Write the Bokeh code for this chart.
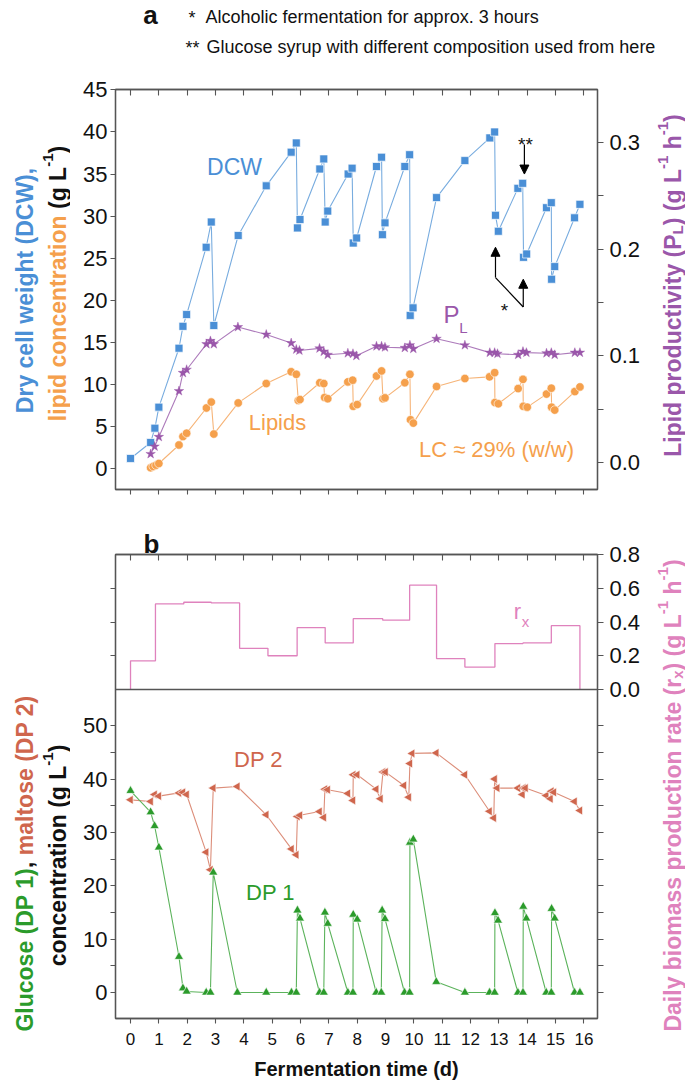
import math
from bokeh.plotting import figure
from bokeh.models import (Range1d, LinearAxis, FixedTicker, Label, Arrow, Title,
                          NormalHead, Span, CustomJSTickFormatter, PrintfTickFormatter)
from bokeh.layouts import column, row
from bokeh.embed import file_html
from bokeh.resources import INLINE

# ---------------- data: panel a ----------------
dcw_time = [0, 0.71, 0.86, 1.0, 1.71, 1.85, 1.98, 2.67, 2.85, 2.94, 3.80, 4.79,
            5.67, 5.85, 5.89, 5.98, 6.68, 6.82, 6.87, 6.96, 7.68, 7.82, 7.86, 7.98,
            8.68, 8.86, 8.89, 8.98, 9.68, 9.85, 9.87, 9.97, 10.80, 11.80,
            12.68, 12.85, 12.88, 12.98, 13.67, 13.84, 13.87, 13.98,
            14.68, 14.85, 14.86, 14.97, 15.67, 15.86]
dcw = [1.2, 3.1, 4.8, 7.3, 14.3, 16.9, 18.3, 26.3, 29.3, 17.0, 27.7, 33.6,
       37.6, 38.7, 28.6, 29.6, 35.6, 36.8, 29.3, 30.6, 35.0, 35.7, 26.8, 27.4,
       35.9, 37.0, 27.8, 29.2, 35.9, 37.3, 18.2, 19.1, 32.2, 36.6,
       39.3, 40.0, 30.1, 28.2, 33.3, 33.9, 25.1, 25.5,
       31.0, 31.6, 22.5, 24.0, 29.8, 31.4]

lipid_time = [0.71, 0.80, 0.90, 1.0, 1.71, 1.85, 1.98, 2.68, 2.85, 2.94, 3.80, 4.79,
              5.67, 5.85, 5.92, 5.98, 6.68, 6.82, 6.85, 6.96, 7.67, 7.84, 7.86, 8.0,
              8.68, 8.86, 8.91, 8.98, 9.68, 9.86, 9.88, 9.98, 10.80, 11.80,
              12.67, 12.85, 12.86, 12.98, 13.68, 13.85, 13.86, 14.0,
              14.68, 14.85, 14.86, 14.97, 15.68, 15.86]
lipid = [0.1, 0.25, 0.4, 0.6, 2.8, 3.8, 4.2, 7.2, 7.9, 4.1, 7.8, 10.1,
         11.5, 11.2, 8.1, 8.2, 10.2, 10.1, 8.45, 8.3, 10.3, 10.5, 7.4, 7.6,
         11.0, 11.6, 8.3, 8.4, 10.2, 11.2, 5.8, 5.4, 9.75, 10.7,
         10.9, 11.4, 7.85, 7.7, 9.5, 10.6, 7.4, 7.3,
         8.85, 9.55, 7.3, 6.95, 9.15, 9.7]

pl_time = [0.71, 0.85, 1.0, 1.71, 1.85, 1.98, 2.68, 2.82, 2.94, 3.79, 4.79,
           5.67, 5.85, 5.96, 6.67, 6.82, 6.96, 7.67, 7.85, 7.97, 8.68, 8.86, 8.98,
           9.68, 9.86, 9.98, 10.80, 11.80, 12.68, 12.85, 12.95, 13.68, 13.85, 13.97,
           14.68, 14.85, 14.97, 15.68, 15.86]
pl = [0.008, 0.015, 0.024, 0.067, 0.084, 0.087, 0.111, 0.114, 0.111, 0.127, 0.120,
      0.112, 0.106, 0.105, 0.107, 0.104, 0.101, 0.1025, 0.102, 0.100, 0.109, 0.109, 0.108,
      0.1075, 0.110, 0.1066, 0.116, 0.110, 0.103, 0.103, 0.102, 0.101, 0.104, 0.103,
      0.1025, 0.103, 0.101, 0.103, 0.103]

# ---------------- data: panel b ----------------
rx_edges = [0, 0.88, 1.88, 2.85, 3.85, 4.85, 5.88, 6.87, 7.86, 8.9, 9.85,
            10.8, 11.8, 12.86, 13.85, 14.85, 15.86]
rx_rate = [0.17, 0.507, 0.517, 0.513, 0.244, 0.2, 0.367, 0.276, 0.42, 0.411,
           0.618, 0.183, 0.133, 0.272, 0.276, 0.378]

dp1_time = [0, 0.71, 0.85, 1.0, 1.71, 1.85, 1.98, 2.67, 2.82, 2.92, 3.77, 4.79,
            5.68, 5.85, 5.89, 5.98, 6.67, 6.82, 6.86, 6.96, 7.67, 7.85, 7.86, 8.0,
            8.67, 8.85, 8.88, 8.98, 9.67, 9.85, 9.86, 9.98, 10.79, 11.80,
            12.67, 12.85, 12.86, 12.97, 13.67, 13.85, 13.86, 13.97,
            14.67, 14.85, 14.86, 14.97, 15.67, 15.86]
dp1 = [37.8, 33.8, 31.2, 27.2, 6.7, 0.8, 0.2, 0, 0, 22.5, 0, 0,
       0, 0, 15.4, 13.9, 0, 0, 15.0, 12.9, 0, 0, 14.6, 13.7,
       0, 0, 15.4, 13.8, 0, 0, 28.1, 28.7, 2.0, 0,
       0, 0, 14.9, 13.5, 0, 0, 16.1, 13.9,
       0, 0, 15.7, 13.9, 0, 0]

dp2_time = [0, 0.71, 0.85, 1.0, 1.71, 1.85, 1.98, 2.67, 2.82, 2.92, 3.77, 4.79,
            5.68, 5.85, 5.89, 5.98, 6.67, 6.82, 6.86, 6.96, 7.67, 7.85, 7.86, 8.0,
            8.67, 8.82, 8.91, 9.0, 9.65, 9.82, 9.86, 9.94, 10.79, 11.80,
            12.67, 12.82, 12.85, 12.94, 13.67, 13.83, 13.86, 13.94,
            14.67, 14.82, 14.85, 14.94, 15.67, 15.86]
dp2 = [36.1, 35.8, 37.1, 36.8, 37.4, 37.5, 37.1, 26.3, 23.0, 38.3, 38.6, 33.3,
       26.9, 25.8, 33.0, 33.2, 33.9, 32.8, 38.1, 38.0, 37.3, 36.0, 40.8, 40.8,
       38.1, 36.3, 41.3, 41.3, 38.8, 36.6, 42.9, 44.8, 44.9, 40.8,
       33.95, 32.7, 40.0, 38.3, 38.3, 37.1, 38.3, 38.3,
       36.9, 36.3, 37.7, 37.5, 35.8, 34.1]

# ---------------- ticks ----------------
day_ticks = list(range(0, 17))
dcw_ticks = list(range(0, 50, 5))
pl_ticks = [0.0, 0.1, 0.2, 0.3]
pl_minor = [0.05, 0.15, 0.25]
rx_ticks = [0.0, 0.2, 0.4, 0.6, 0.8]
conc_ticks = list(range(0, 55, 5))

# ---------------- layout constants (page pixels) ----------------
FONT = "Liberation Sans"
PAGE_W = 685
HEAD_H = 70                  # header strip height
LEFT_W, RIGHT_W = 70, 41     # side strips for the axis titles
MAIN_W = PAGE_W - LEFT_W - RIGHT_W
FRAME_X0, FRAME_X1 = 115, 597
A_FRAME = (89, 489)
A_H = 444
B_TOP = HEAD_H + A_H
B_FRAME = (554, 1018)
B_SEP_PY = 689
B_H = 574

XR = (-0.53, 16.48)
YA = (-2.49, 45.05)
PLR = (-0.0253, 0.3497)
YB = (-4.87, 82.07)
RX_TOP = 0.8
RXR = (-(B_FRAME[1] - B_SEP_PY) * RX_TOP / (B_SEP_PY - B_FRAME[0]), RX_TOP)

BLUE, BLUE_L = "#4a8fd6", "#78acdf"
ORANGE, ORANGE_L = "#f5a04c", "#f6b478"
PURPLE, PURPLE_L = "#9a57aa", "#ad7bbb"
PINK = "#df82bd"
GREEN, GREEN_L = "#2b9b2b", "#5cb35c"
BROWN, BROWN_L = "#cf664d", "#dc8e7a"
AXIS = "#555555"
INK = "#111111"


def ax(px):
    return XR[0] + (px - FRAME_X0) / (FRAME_X1 - FRAME_X0) * (XR[1] - XR[0])


def ay(py):
    return YA[0] + (A_FRAME[1] - py) / (A_FRAME[1] - A_FRAME[0]) * (YA[1] - YA[0])


def by(py):
    return YB[0] + (B_FRAME[1] - py) / (B_FRAME[1] - B_FRAME[0]) * (YB[1] - YB[0])


def conc_to_rx(c):
    py = B_FRAME[1] - (c - YB[0]) / (YB[1] - YB[0]) * (B_FRAME[1] - B_FRAME[0])
    return (B_SEP_PY - py) * RX_TOP / (B_SEP_PY - B_FRAME[0])


def rx_to_conc(r):
    py = B_SEP_PY - r * (B_SEP_PY - B_FRAME[0]) / RX_TOP
    return by(py)


HB = {' ': 278, '(': 333, ')': 333, ',': 278, '-': 333, '.': 278, '/': 278,
      'A': 722, 'B': 722, 'C': 722, 'D': 722, 'E': 667, 'F': 611, 'G': 778, 'H': 722,
      'I': 278, 'J': 556, 'K': 722, 'L': 611, 'M': 833, 'N': 722, 'O': 778, 'P': 667,
      'Q': 778, 'R': 722, 'S': 667, 'T': 611, 'U': 722, 'V': 667, 'W': 944, 'X': 667,
      'Y': 667, 'Z': 611, 'a': 556, 'b': 611, 'c': 556, 'd': 611, 'e': 556, 'f': 333,
      'g': 611, 'h': 611, 'i': 278, 'j': 278, 'k': 556, 'l': 278, 'm': 889, 'n': 611,
      'o': 611, 'p': 611, 'q': 611, 'r': 389, 's': 556, 't': 333, 'u': 611, 'v': 556,
      'w': 778, 'x': 556, 'y': 556, 'z': 500}


def sw(s, size):
    return sum(HB.get(c, 556) for c in s) * size / 1000.0


def text_strip(w, h):
    f = figure(width=w, height=h, x_range=Range1d(0, w), y_range=Range1d(h, 0),
               x_axis_location=None, y_axis_location=None, title=None,
               output_backend="svg", toolbar_location=None, min_border=0)
    f.grid.visible = False
    f.outline_line_color = None
    return f


def vlabel(p, cx_conv, cy_conv, cx, cy, segs, size=23):
    small = round(size * 0.65)
    total = sum(sw(t, small if k != "n" else size) for t, c, k in segs)
    y = cy + total / 2.0
    base = cx + 0.36 * size
    for t, c, k in segs:
        s = size if k == "n" else small
        bx = base + (-0.42 * size if k == "sup" else (0.2 * size if k == "sub" else 0))
        lead = len(t) - len(t.lstrip(" "))
        txt = t.strip(" ")
        yy = y - sw(" " * lead, s)
        p.add_layout(Label(x=cx_conv(bx), y=cy_conv(yy), text=txt, angle=math.pi / 2,
                           text_align="left", text_baseline="alphabetic",
                           text_font=FONT, text_font_style="bold",
                           text_font_size=f"{s}px", text_color=c))
        y -= sw(t, s)


def hlabel(p, cx_conv, cy_conv, px, py, text, size, color, bold=False, align="center",
           baseline="middle"):
    p.add_layout(Label(x=cx_conv(px), y=cy_conv(py), text=text, text_align=align,
                       text_baseline=baseline, text_font=FONT,
                       text_font_style="bold" if bold else "normal",
                       text_font_size=f"{size}px", text_color=color))


def style_axis(a, tick_in=0, tick_out=5, size="22px", standoff=4):
    a.axis_line_color = AXIS
    a.axis_line_width = 1.3
    a.major_tick_line_color = AXIS
    a.minor_tick_line_color = AXIS
    a.major_tick_line_width = 1.1
    a.minor_tick_line_width = 1.1
    a.major_tick_in = tick_in
    a.major_tick_out = tick_out
    a.minor_tick_in = tick_in
    a.minor_tick_out = tick_out
    a.major_label_text_font = FONT
    a.major_label_text_font_size = size
    a.major_label_text_color = INK
    a.major_label_standoff = standoff


BLANK = "return '';"

# ======================= header strip =======================
head = text_strip(PAGE_W, HEAD_H)
hx = lambda v: v
hy = lambda v: v
hlabel(head, hx, hy, 150, 14, "a", 26, INK, bold=True)
hlabel(head, hx, hy, 188, 17, "*", 18, INK, align="left", baseline="alphabetic")
hlabel(head, hx, hy, 205, 16, "Alcoholic fermentation for approx. 3 hours", 18, INK,
       align="left", baseline="alphabetic")
hlabel(head, hx, hy, 185, 47, "**", 18, INK, align="left", baseline="alphabetic")
hlabel(head, hx, hy, 206, 46, "Glucose syrup with different composition used from here",
       18, INK, align="left", baseline="alphabetic")

# ======================= panel a =======================
pa = figure(width=MAIN_W, height=A_H, x_range=Range1d(*XR), y_range=Range1d(*YA),
            x_axis_location=None, y_axis_location=None,
            output_backend="svg", toolbar_location=None,
            min_border_left=FRAME_X0 - LEFT_W,
            min_border_right=LEFT_W + MAIN_W - FRAME_X1,
            min_border_top=A_FRAME[0] - HEAD_H,
            min_border_bottom=HEAD_H + A_H - A_FRAME[1])
pa.extra_y_ranges = {"pl": Range1d(*PLR)}
pa.grid.visible = False
pa.outline_line_color = AXIS
pa.outline_line_width = 1.3

a_left = LinearAxis(ticker=FixedTicker(ticks=dcw_ticks))
style_axis(a_left, tick_out=5, standoff=3)
pa.add_layout(a_left, "left")
a_right = LinearAxis(y_range_name="pl",
                     ticker=FixedTicker(ticks=pl_ticks, minor_ticks=pl_minor),
                     formatter=PrintfTickFormatter(format="%.1f"))
style_axis(a_right, tick_out=6, standoff=6)
pa.add_layout(a_right, "right")
a_top = LinearAxis(ticker=FixedTicker(ticks=day_ticks),
                   formatter=CustomJSTickFormatter(code=BLANK))
style_axis(a_top, tick_in=6, tick_out=0, size="1px", standoff=0)
pa.add_layout(a_top, "above")
a_bot = LinearAxis(ticker=FixedTicker(ticks=day_ticks),
                   formatter=CustomJSTickFormatter(code=BLANK))
style_axis(a_bot, tick_in=0, tick_out=5, size="1px", standoff=0)
pa.add_layout(a_bot, "below")

pa.line(dcw_time, dcw, line_color=BLUE_L, line_width=1.1)
pa.scatter(dcw_time, dcw, marker="square", size=8, fill_color=BLUE,
           line_color="white", line_width=0.7)
pa.line(lipid_time, lipid, line_color=ORANGE_L, line_width=1.1)
pa.scatter(lipid_time, lipid, marker="circle", size=8.5, fill_color=ORANGE,
           line_color="white", line_width=0.6)
pa.line(pl_time, pl, line_color=PURPLE_L, line_width=1.1, y_range_name="pl")
pa.scatter(pl_time, pl, marker="star", size=10, fill_color=PURPLE,
           line_color=PURPLE, line_width=0.4, y_range_name="pl")

hlabel(pa, ax, ay, 234, 166, "DCW", 23, BLUE)
hlabel(pa, ax, ay, 451, 314, "P", 24, PURPLE)
hlabel(pa, ax, ay, 463, 327, "L", 15, PURPLE)
hlabel(pa, ax, ay, 277, 422, "Lipids", 22, ORANGE)
hlabel(pa, ax, ay, 496, 449, "LC \u2248 29% (w/w)", 22, ORANGE)
hlabel(pa, ax, ay, 525, 144, "**", 19, INK, baseline="alphabetic")
hlabel(pa, ax, ay, 504, 310, "*", 19, INK, baseline="alphabetic")

hd = dict(size=9, fill_color="black", line_color="black")
pa.add_layout(Arrow(end=NormalHead(**hd), x_start=13.9, y_start=38.5,
                    x_end=13.9, y_end=35.0, line_color="black", line_width=1.2))
pa.add_layout(Arrow(end=None, x_start=12.88, y_start=22.7, x_end=13.86, y_end=19.2,
                    line_color="black", line_width=1.2))
pa.add_layout(Arrow(end=NormalHead(**hd), x_start=12.88, y_start=22.7,
                    x_end=12.88, y_end=26.3, line_color="black", line_width=1.2))
pa.add_layout(Arrow(end=NormalHead(**hd), x_start=13.86, y_start=19.2,
                    x_end=13.86, y_end=22.5, line_color="black", line_width=1.2))

# ======================= panel b =======================
pb = figure(width=MAIN_W, height=B_H, x_range=pa.x_range, y_range=Range1d(*YB),
            x_axis_location=None, y_axis_location=None,
            output_backend="svg", toolbar_location=None,
            min_border_left=FRAME_X0 - LEFT_W,
            min_border_right=LEFT_W + MAIN_W - FRAME_X1,
            min_border_top=B_FRAME[0] - B_TOP,
            min_border_bottom=B_TOP + B_H - B_FRAME[1])
pb.extra_y_ranges = {"rx": Range1d(*RXR)}
pb.grid.visible = False
pb.outline_line_color = AXIS
pb.outline_line_width = 1.3

b_left = LinearAxis(ticker=FixedTicker(ticks=conc_ticks + [rx_to_conc(r) for r in (0.2, 0.4, 0.6)]),
                    formatter=CustomJSTickFormatter(code="const r = Math.round(tick); return (Math.abs(tick - r) < 1e-6 && r % 10 === 0 && r <= 50) ? String(r) : '';"))
style_axis(b_left, tick_out=5, standoff=3)
pb.add_layout(b_left, "left")
b_right = LinearAxis(y_range_name="rx",
                     ticker=FixedTicker(ticks=rx_ticks + [conc_to_rx(c) for c in conc_ticks]),
                     formatter=CustomJSTickFormatter(code="return tick > -1e-6 ? tick.toFixed(1) : '';"))
style_axis(b_right, tick_out=6, standoff=6)
pb.add_layout(b_right, "right")
b_top = LinearAxis(ticker=FixedTicker(ticks=day_ticks),
                   formatter=CustomJSTickFormatter(code=BLANK))
style_axis(b_top, tick_in=6, tick_out=0, size="1px", standoff=0)
pb.add_layout(b_top, "above")
pb.add_layout(Title(text="b", align="left", offset=28, standoff=-8, text_font=FONT,
                    text_font_size="26px", text_font_style="bold", text_color=INK),
              "above")
b_bot = LinearAxis(ticker=FixedTicker(ticks=day_ticks),
                   formatter=PrintfTickFormatter(format="%d"),
                   axis_label="Fermentation time (d)")
style_axis(b_bot, tick_out=5, size="17px", standoff=9)
b_bot.axis_label_text_font = FONT
b_bot.axis_label_text_font_style = "bold"
b_bot.axis_label_text_font_size = "20px"
b_bot.axis_label_text_color = INK
b_bot.axis_label_standoff = 10
pb.add_layout(b_bot, "below")

step_x = [rx_edges[0]] + rx_edges
step_y = [0] + rx_rate + [0]
pb.step(step_x, step_y, mode="after", y_range_name="rx", line_color=PINK, line_width=1.3)
pb.add_layout(Span(location=0, dimension="width", y_range_name="rx",
                   line_color=AXIS, line_width=1.3))

pb.line(dp2_time, dp2, line_color=BROWN_L, line_width=1.1)
pb.scatter(dp2_time, dp2, marker="triangle", angle=math.pi / 2, size=9,
           fill_color=BROWN, line_color="white", line_width=0.6)
pb.line(dp1_time, dp1, line_color=GREEN_L, line_width=1.1)
pb.scatter(dp1_time, dp1, marker="triangle", size=9, fill_color=GREEN,
           line_color="white", line_width=0.6)

hlabel(pb, ax, by, 517, 611, "r", 22, PINK)
hlabel(pb, ax, by, 525, 621, "x", 15, PINK)
hlabel(pb, ax, by, 258, 759, "DP 2", 22, BROWN)
hlabel(pb, ax, by, 270, 892, "DP 1", 22, GREEN)

# ======================= side strips (axis titles) =======================
SIDE_H = A_H + B_H
left = text_strip(LEFT_W, SIDE_H)
lx = lambda v: v
ly = lambda v: v - HEAD_H
vlabel(left, lx, ly, 16, 290, [("Dry cell weight (DCW),", BLUE, "n")])
vlabel(left, lx, ly, 49, 283, [("lipid concentration", ORANGE, "n"), (" (g L", INK, "n"),
                               ("-1", INK, "sup"), (")", INK, "n")])
vlabel(left, lx, ly, 16, 863, [("Glucose (DP 1)", GREEN, "n"), (", ", INK, "n"),
                               ("maltose (DP 2)", BROWN, "n")])
vlabel(left, lx, ly, 49, 855, [("concentration (g L", INK, "n"), ("-1", INK, "sup"),
                               (")", INK, "n")])

right = text_strip(RIGHT_W, SIDE_H)
rxl = lambda v: v - (LEFT_W + MAIN_W)
ryl = lambda v: v - HEAD_H
vlabel(right, rxl, ryl, 664, 285, [("Lipid productivity (P", PURPLE, "n"), ("L", PURPLE, "sub"),
                                   (") (g L", PURPLE, "n"), ("-1", PURPLE, "sup"),
                                   (" h", PURPLE, "n"), ("-1", PURPLE, "sup"),
                                   (")", PURPLE, "n")])
vlabel(right, rxl, ryl, 664, 795, [("Daily biomass production rate (r", PINK, "n"),
                                   ("x", PINK, "sub"), (") (g L", PINK, "n"),
                                   ("-1", PINK, "sup"), (" h", PINK, "n"),
                                   ("-1", PINK, "sup"), (")", PINK, "n")])

layout = column(head, row(left, column(pa, pb), right))
open("out.html", "w").write(file_html(layout, INLINE))
